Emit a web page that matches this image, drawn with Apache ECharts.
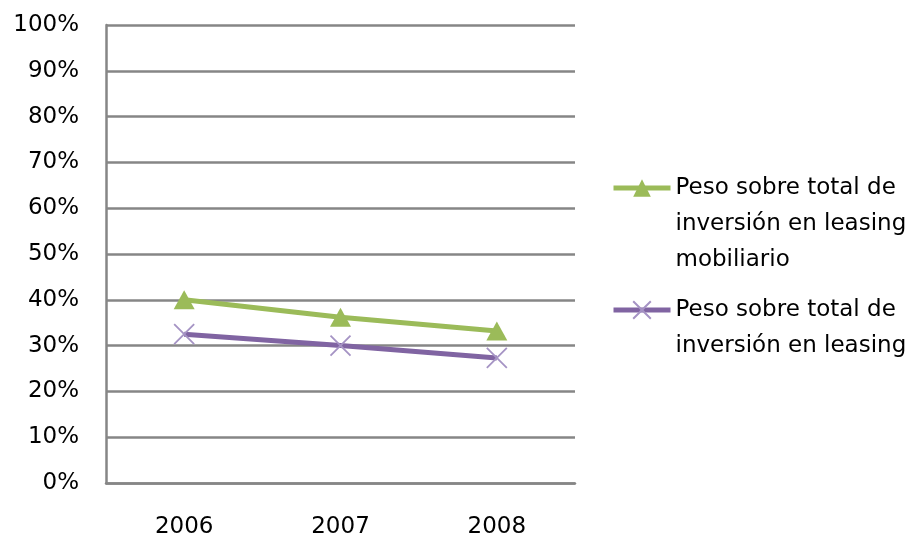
<!DOCTYPE html>
<html>
<head>
<meta charset="utf-8">
<script src="https://cdn.jsdelivr.net/npm/echarts@6/dist/echarts.min.js"></script>
<style>
html,body{margin:0;padding:0;background:#fff;}
#chart{width:908px;height:540px;}
</style>
</head>
<body>
<div id="chart"></div>
<script>
var categories = ['2006', '2007', '2008'];
var seriesNames = [
  'Peso sobre total de inversión en leasing mobiliario',
  'Peso sobre total de inversión en leasing'
];
var legendLines1 = ['Peso sobre total de', 'inversión en leasing', 'mobiliario'];
var legendLines2 = ['Peso sobre total de', 'inversión en leasing'];
var mobiliarioValues = [0.40, 0.362, 0.332];
var leasingValues = [0.325, 0.300, 0.273];
var yTickValues = [0, 0.1, 0.2, 0.3, 0.4, 0.5, 0.6, 0.7, 0.8, 0.9, 1.0];

var FONT = 'DejaVu Sans';
var LH = 36;
var GRID_COLOR = '#868686';

function legendText(lines) {
  var s = '{s| }\n';
  return s + lines.map(function (l) { return '{t|' + l + '}'; }).join('\n');
}

var chart = echarts.init(document.getElementById('chart'), null, {renderer: 'canvas'});

var option = {
  backgroundColor: '#ffffff',
  animation: false,
  grid: {left: 106, top: 25, width: 469, height: 458, containLabel: false},
  xAxis: {
    type: 'category',
    data: categories,
    boundaryGap: true,
    axisLine: {show: true, lineStyle: {color: GRID_COLOR, width: 2.5}},
    axisTick: {show: false},
    axisLabel: {color: '#000', fontFamily: FONT, fontSize: 23, margin: 33}
  },
  yAxis: {
    type: 'value',
    min: 0,
    max: 1,
    interval: 0.1,
    axisLine: {show: true, lineStyle: {color: GRID_COLOR, width: 2.5}},
    axisTick: {show: false},
    splitLine: {show: true, lineStyle: {color: GRID_COLOR, width: 2.5}},
    axisLabel: {
      color: '#000', fontFamily: FONT, fontSize: 23, margin: 27,
      formatter: function (v) {
        for (var i = 0; i < yTickValues.length; i++) {
          if (Math.abs(yTickValues[i] - v) < 1e-6) return Math.round(yTickValues[i] * 100) + '%';
        }
        return '';
      }
    }
  },
  legend: [
    {
      orient: 'vertical',
      left: 611,
      top: 188 - LH * 2.5 + 31,
      padding: 0,
      itemWidth: 57,
      itemHeight: 22,
      data: [seriesNames[0]],
      lineStyle: {width: 5},
      formatter: function () { return legendText(legendLines1); },
      textStyle: {
        rich: {
          s: {lineHeight: LH * 2, fontSize: 10},
          t: {lineHeight: LH, fontSize: 23, fontFamily: FONT, color: '#000'}
        }
      }
    },
    {
      orient: 'vertical',
      left: 611,
      top: 310 - LH * 1.5 + 13,
      padding: 0,
      itemWidth: 57,
      itemHeight: 22,
      data: [seriesNames[1]],
      lineStyle: {width: 5},
      formatter: function () { return legendText(legendLines2); },
      textStyle: {
        rich: {
          s: {lineHeight: LH, fontSize: 10},
          t: {lineHeight: LH, fontSize: 23, fontFamily: FONT, color: '#000'}
        }
      }
    }
  ],
  series: [
    {
      name: seriesNames[0],
      type: 'line',
      data: mobiliarioValues,
      symbol: 'triangle',
      symbolSize: [21, 19],
      lineStyle: {color: '#9BBB59', width: 5},
      itemStyle: {color: '#9BBB59', borderColor: '#9BBB59', borderWidth: 0},
      z: 3
    },
    {
      name: seriesNames[1],
      type: 'line',
      data: leasingValues,
      symbol: 'path://M0,0L20,20M20,0L0,20',
      symbolSize: 20,
      lineStyle: {color: '#8064A2', width: 5},
      itemStyle: {color: 'rgba(0,0,0,0)', borderColor: '#A593C4', borderWidth: 1.8},
      z: 2
    }
  ]
};

chart.setOption(option);
</script>
</body>
</html>
